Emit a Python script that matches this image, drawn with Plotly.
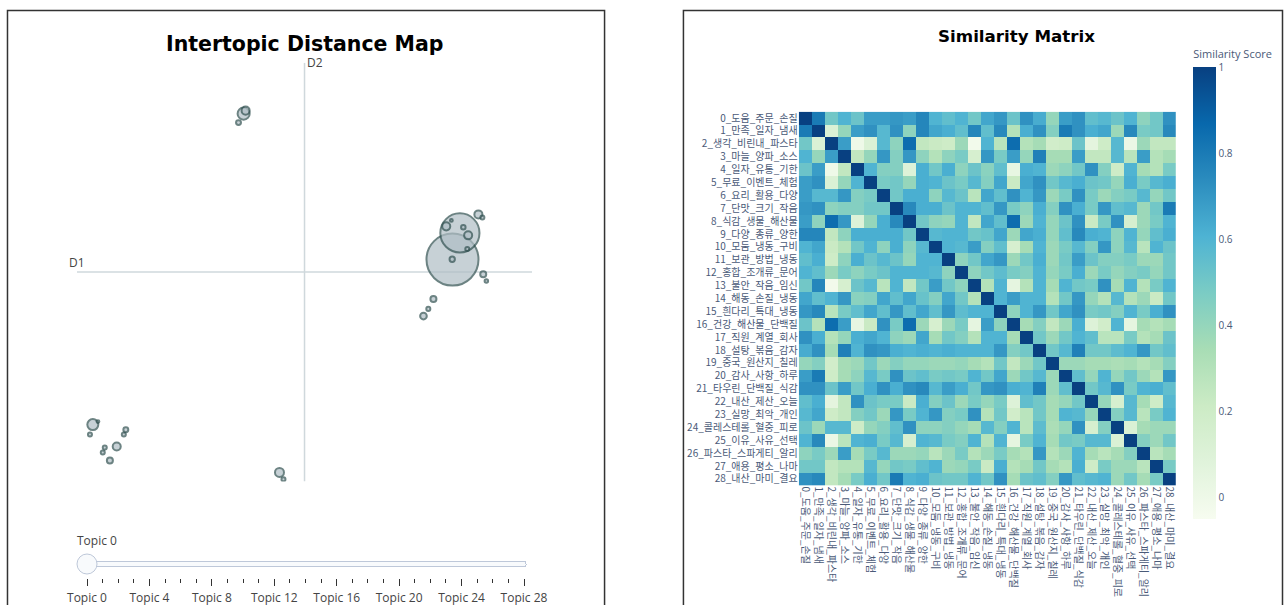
import plotly.graph_objects as go

# ---------------- data ----------------
topic_ids = list(range(29))
topic_x = [13.20, 13.46, 5.86, 0.56, 7.12, 14.11, 12.98, 13.75, 5.93, 1.40,
           12.18, 14.28, 12.53, 1.16, 13.19, 5.68, 1.72, 13.58, 14.25, 13.72,
           12.35, 0.46, 1.65, 0.98, 0.91, 7.26, 14.39, 13.16, 0.74]
topic_y = [7.42, 8.31, 12.30, 1.90, 0.30, 8.93, 8.53, 8.23, 12.40, 1.17,
           5.53, 6.93, 6.10, 0.70, 7.43, 12.00, 1.73, 8.50, 8.83, 7.77,
           5.77, 1.57, 1.57, 1.13, 0.97, 0.07, 6.70, 8.73, 2.00]
topic_size = [670, 380, 36, 30, 20, 16, 16, 16, 16, 16,
              11, 9, 9, 9, 7, 6, 6, 5, 4, 4,
              4, 4, 4, 4, 4, 4, 3, 2, 2]
slider_labels = [f"Topic {t}" for t in topic_ids]

labels = ["0_도움_주문_손질", "1_만족_일자_냄새", "2_생각_비린내_파스타", "3_마늘_양파_소스",
          "4_일자_유통_기한", "5_무료_이벤트_체험", "6_요리_활용_다양", "7_단맛_크기_작음",
          "8_식감_생물_해산물", "9_다양_종류_양한", "10_모둠_냉동_구비", "11_보관_방법_냉동",
          "12_홍합_조개류_문어", "13_불안_작음_임신", "14_해동_손질_냉동", "15_흰다리_특대_냉동",
          "16_건강_해산물_단백질", "17_직원_계열_회사", "18_설탕_볶음_감자", "19_중국_원산지_칠레",
          "20_감사_사항_하루", "21_타우린_단백질_식감", "22_내산_제산_오늘", "23_실망_최악_개인",
          "24_콜레스테롤_혈중_피로", "25_이유_사유_선택", "26_파스타_스파게티_알리",
          "27_애용_평소_나마", "28_내산_마미_결요"]

# upper triangle of the similarity matrix (row i, columns i..28)
upper = [
    [1.0, 0.80, 0.50, 0.60, 0.52, 0.68, 0.68, 0.70, 0.68, 0.76, 0.60, 0.55, 0.60, 0.50, 0.65, 0.70, 0.52, 0.72, 0.63, 0.40, 0.68, 0.72, 0.55, 0.58, 0.52, 0.60, 0.42, 0.50, 0.72],
    [1.0, 0.12, 0.40, 0.68, 0.72, 0.58, 0.72, 0.42, 0.76, 0.65, 0.62, 0.55, 0.76, 0.55, 0.75, 0.30, 0.62, 0.72, 0.45, 0.80, 0.72, 0.62, 0.65, 0.38, 0.75, 0.48, 0.50, 0.75],
    [1.0, 0.68, 0.00, 0.12, 0.58, 0.42, 0.85, 0.25, 0.22, 0.20, 0.38, -0.02, 0.60, 0.28, 0.85, 0.30, 0.35, 0.18, 0.20, 0.52, 0.06, 0.20, 0.58, 0.02, 0.38, 0.25, 0.25],
    [1.0, 0.25, 0.40, 0.70, 0.45, 0.70, 0.42, 0.30, 0.42, 0.48, 0.15, 0.70, 0.48, 0.68, 0.40, 0.78, 0.35, 0.35, 0.68, 0.25, 0.25, 0.58, 0.28, 0.68, 0.30, 0.35],
    [1.0, 0.60, 0.45, 0.45, 0.10, 0.62, 0.50, 0.62, 0.42, 0.52, 0.43, 0.55, 0.04, 0.62, 0.60, 0.38, 0.42, 0.50, 0.72, 0.45, 0.20, 0.60, 0.35, 0.30, 0.48],
    [1.0, 0.48, 0.50, 0.40, 0.62, 0.60, 0.52, 0.48, 0.58, 0.45, 0.65, 0.22, 0.65, 0.72, 0.50, 0.58, 0.62, 0.52, 0.50, 0.40, 0.62, 0.48, 0.58, 0.62],
    [1.0, 0.50, 0.62, 0.62, 0.42, 0.58, 0.52, 0.28, 0.65, 0.55, 0.72, 0.60, 0.70, 0.38, 0.48, 0.72, 0.48, 0.38, 0.45, 0.48, 0.58, 0.40, 0.50],
    [1.0, 0.75, 0.62, 0.62, 0.52, 0.60, 0.60, 0.55, 0.70, 0.48, 0.42, 0.62, 0.45, 0.72, 0.62, 0.48, 0.70, 0.55, 0.58, 0.38, 0.50, 0.80],
    [1.0, 0.50, 0.42, 0.40, 0.60, 0.25, 0.65, 0.55, 0.85, 0.38, 0.60, 0.40, 0.52, 0.72, 0.22, 0.48, 0.72, 0.15, 0.38, 0.48, 0.60],
    [1.0, 0.58, 0.60, 0.60, 0.50, 0.53, 0.65, 0.38, 0.65, 0.62, 0.40, 0.55, 0.75, 0.62, 0.60, 0.42, 0.60, 0.40, 0.55, 0.62],
    [1.0, 0.60, 0.58, 0.68, 0.45, 0.55, 0.15, 0.35, 0.60, 0.38, 0.48, 0.58, 0.45, 0.70, 0.42, 0.58, 0.28, 0.60, 0.52],
    [1.0, 0.42, 0.50, 0.65, 0.70, 0.38, 0.50, 0.62, 0.38, 0.50, 0.68, 0.52, 0.45, 0.45, 0.48, 0.38, 0.38, 0.50],
    [1.0, 0.42, 0.50, 0.56, 0.48, 0.45, 0.60, 0.40, 0.48, 0.62, 0.38, 0.48, 0.40, 0.45, 0.48, 0.40, 0.50],
    [1.0, 0.30, 0.60, 0.05, 0.30, 0.60, 0.35, 0.60, 0.50, 0.48, 0.72, 0.35, 0.60, 0.30, 0.48, 0.60],
    [1.0, 0.60, 0.68, 0.60, 0.60, 0.30, 0.50, 0.70, 0.40, 0.30, 0.58, 0.30, 0.38, 0.22, 0.50],
    [1.0, 0.42, 0.60, 0.70, 0.50, 0.65, 0.72, 0.48, 0.50, 0.45, 0.60, 0.48, 0.62, 0.72],
    [1.0, 0.35, 0.45, 0.25, 0.38, 0.62, 0.10, 0.18, 0.60, 0.05, 0.35, 0.30, 0.35],
    [1.0, 0.50, 0.38, 0.50, 0.60, 0.55, 0.28, 0.28, 0.48, 0.30, 0.35, 0.52],
    [1.0, 0.50, 0.58, 0.78, 0.50, 0.50, 0.56, 0.60, 0.70, 0.50, 0.55],
    [1.0, 0.38, 0.38, 0.35, 0.35, 0.33, 0.35, 0.30, 0.35, 0.45],
    [1.0, 0.55, 0.40, 0.60, 0.40, 0.50, 0.38, 0.30, 0.70],
    [1.0, 0.50, 0.58, 0.72, 0.48, 0.60, 0.62, 0.55],
    [1.0, 0.40, 0.15, 0.58, 0.35, 0.20, 0.58],
    [1.0, 0.45, 0.58, 0.28, 0.48, 0.60],
    [1.0, 0.12, 0.35, 0.38, 0.38],
    [1.0, 0.45, 0.38, 0.50],
    [1.0, 0.28, 0.35],
    [1.0, 0.48],
    [1.0],
]
colorbar_ticks = [0, 0.2, 0.4, 0.6, 0.8, 1]

n = len(labels)
sim = [[0.0] * n for _ in range(n)]
for i, row in enumerate(upper):
    for k, v in enumerate(row):
        j = i + k
        sim[i][j] = v
        sim[j][i] = v

# ---------------- figure ----------------
W, H = 1286, 605
def fx(p):
    return p / W
def fy(p):
    return 1 - p / H

XR = [0, 16]
YR = [0, 14]

fig = go.Figure()
fig.add_trace(go.Scatter(
    x=topic_x, y=topic_y, mode="markers", xaxis="x", yaxis="y",
    text=slider_labels, hoverinfo="text", showlegend=False,
    marker=dict(size=topic_size, sizemode="area", sizeref=2 * max(topic_size) / 52 ** 2,
                color="#B0BEC5", opacity=0.7,
                line=dict(width=2, color="DarkSlateGrey")),
))
fig.add_trace(go.Heatmap(
    z=sim, x=labels, y=labels, xaxis="x2", yaxis="y2",
    colorscale="GnBu", zmin=-0.05, zmax=1,
    colorbar=dict(
        title=dict(text="Similarity Score", side="top",
                   font=dict(size=11, color="#4a5a78")),
        x=fx(1195), xanchor="left", xpad=0,
        y=fy(282), yanchor="middle", len=494 / H, lenmode="fraction",
        thickness=23, outlinewidth=0,
        tickvals=colorbar_ticks, ticks="",
        tickfont=dict(size=10, color="#4a5a78"),
    ),
))

steps = []
for t in topic_ids:
    cols = ["red" if i == t else "#B0BEC5" for i in topic_ids]
    steps.append(dict(label=slider_labels[t], method="restyle",
                      args=[{"marker.color": [cols]}, [0]]))

fig.update_layout(
    width=W, height=H, autosize=False,
    margin=dict(l=0, r=0, t=0, b=0),
    paper_bgcolor="white", plot_bgcolor="white",
    font=dict(family="Open Sans, DejaVu Sans, sans-serif", color="#444"),
    xaxis=dict(domain=[fx(77), fx(533)], range=XR, visible=False, anchor="y"),
    yaxis=dict(domain=[fy(481), fy(61)], range=YR, visible=False, anchor="x"),
    xaxis2=dict(domain=[fx(800), fx(1178)], anchor="y2", type="category",
                tickmode="array", tickvals=labels, ticktext=labels,
                tickangle=90, showgrid=False, zeroline=False, ticks="",
                tickfont=dict(size=10, family="Noto Sans CJK KR", color="#4a5a78")),
    yaxis2=dict(domain=[fy(485), fy(110)], anchor="x2", type="category",
                autorange="reversed",
                tickmode="array", tickvals=labels, ticktext=labels,
                showgrid=False, zeroline=False, ticks="",
                tickfont=dict(size=10, family="Noto Sans CJK KR", color="#4a5a78")),
    sliders=[dict(active=0, x=fx(77), len=458 / W, y=fy(529), yanchor="top",
                  xanchor="left", pad=dict(t=0, b=0, l=0, r=0),
                  currentvalue=dict(visible=True, prefix="", xanchor="left",
                                    offset=8, font=dict(size=12, color="#444")),
                  font=dict(size=12, color="#444"),
                  steps=steps)],
    shapes=[
        dict(type="line", xref="x", yref="y", x0=sum(XR) / 2, x1=sum(XR) / 2,
             y0=YR[0], y1=YR[1], line=dict(color="#CFD8DC", width=1.5), layer="below"),
        dict(type="line", xref="x", yref="y", x0=XR[0], x1=XR[1],
             y0=sum(YR) / 2, y1=sum(YR) / 2, line=dict(color="#CFD8DC", width=1.5), layer="below"),
        dict(type="rect", xref="paper", yref="paper", x0=fx(7.5), x1=fx(605.5),
             y0=-0.05, y1=fy(8.5), line=dict(color="#333", width=1.5)),
        dict(type="rect", xref="paper", yref="paper", x0=fx(684.5), x1=fx(1284.5),
             y0=-0.05, y1=fy(8.5), line=dict(color="#333", width=1.5)),
    ],
    annotations=[
        dict(text="<b>Intertopic Distance Map</b>", xref="paper", yref="paper",
             x=fx(305), y=fy(42), showarrow=False, xanchor="center", yanchor="middle",
             font=dict(size=20.5, color="black", family="DejaVu Sans")),
        dict(text="<b>Similarity Matrix</b>", xref="paper", yref="paper",
             x=fx(1018), y=fy(34), showarrow=False, xanchor="center", yanchor="middle",
             font=dict(size=16.7, color="black", family="DejaVu Sans")),
        dict(text="D1", xref="x", yref="y", x=XR[0], y=sum(YR) / 2, yshift=10,
             showarrow=False, font=dict(size=12, color="#444")),
        dict(text="D2", xref="x", yref="y", x=sum(XR) / 2, y=YR[1], xshift=10,
             showarrow=False, font=dict(size=12, color="#444")),
    ],
)

fig.write_html(
    "out.html",
    config={"displayModeBar": False},
    post_script="document.body.style.margin='0px';document.body.style.overflow='hidden';",
)
